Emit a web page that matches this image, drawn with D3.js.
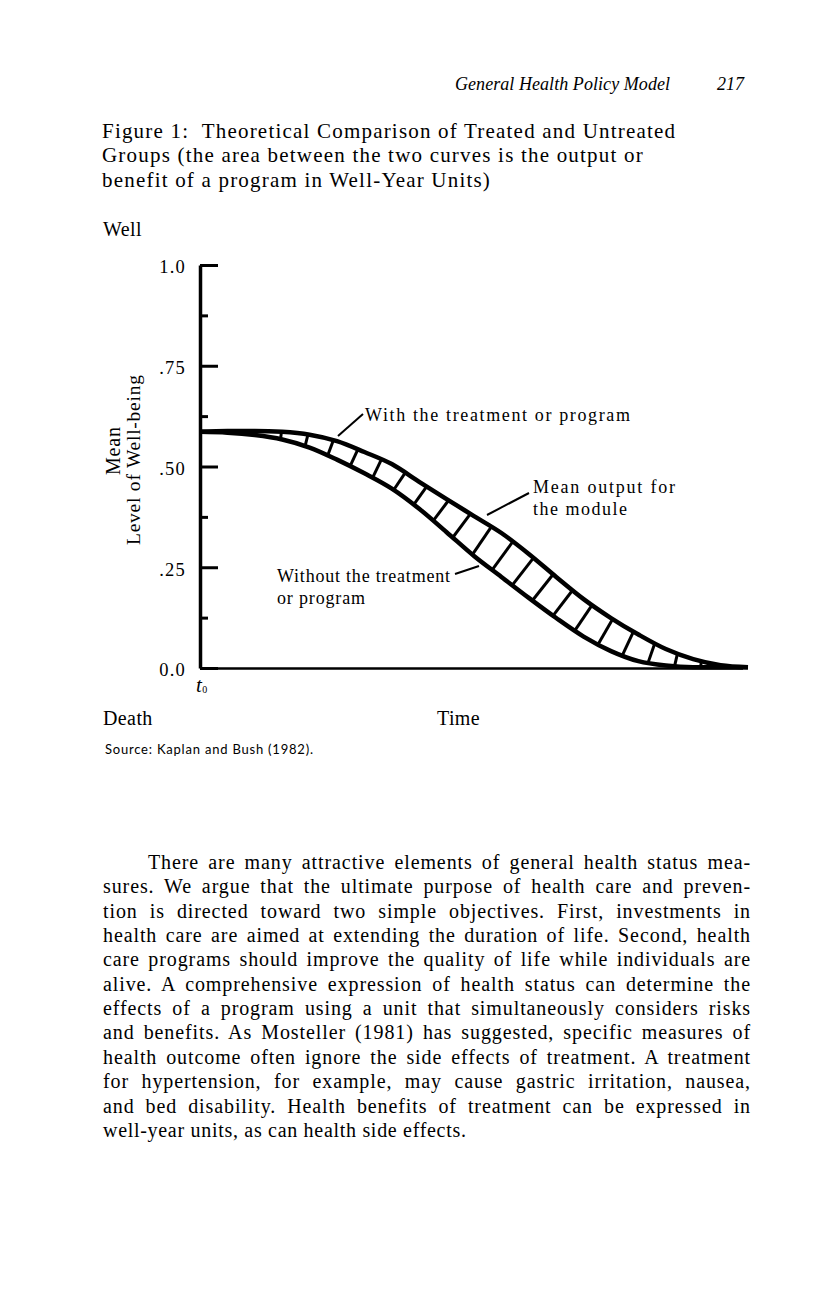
<!DOCTYPE html>
<html><head><meta charset="utf-8">
<script src="https://cdnjs.cloudflare.com/ajax/libs/d3/7.8.5/d3.min.js"></script>
<style>body{margin:0;background:#fff}svg{display:block}</style>
</head><body>
<svg id="c" width="816" height="1296"></svg>
<script>
// ---- data ----
const time = [0,5,10,15,20,25,30,35,40,45,50,55,60,65,70,75,80,85,90,95,100];
const withTreatment = [0.586,0.588,0.588,0.586,0.579,0.563,0.536,0.506,0.462,0.419,0.377,0.335,0.283,0.226,0.171,0.124,0.083,0.047,0.022,0.007,0.002];
const withoutTreatment = [0.586,0.584,0.578,0.567,0.547,0.517,0.483,0.445,0.395,0.337,0.278,0.226,0.174,0.124,0.078,0.042,0.017,0.006,0.002,0.002,0.002];
const yMajorTicks = [0, 0.25, 0.5, 0.75, 1.0];
const yTickLabels = ["0.0", ".25", ".50", ".75", "1.0"];
const yMinorTicks = [0.125, 0.375, 0.625, 0.875];
const headerText = "General Health Policy Model";
const pageNumber = "217";
const titleLines = [
  "Figure 1:  Theoretical Comparison of Treated and Untreated",
  "Groups (the area between the two curves is the output or",
  "benefit of a program in Well-Year Units)"
];
const bodyLines = [
  "There are many attractive elements of general health status mea-",
  "sures. We argue that the ultimate purpose of health care and preven-",
  "tion is directed toward two simple objectives. First, investments in",
  "health care are aimed at extending the duration of life. Second, health",
  "care programs should improve the quality of life while individuals are",
  "alive. A comprehensive expression of health status can determine the",
  "effects of a program using a unit that simultaneously considers risks",
  "and benefits. As Mosteller (1981) has suggested, specific measures of",
  "health outcome often ignore the side effects of treatment. A treatment",
  "for hypertension, for example, may cause gastric irritation, nausea,",
  "and bed disability. Health benefits of treatment can be expressed in",
  "well-year units, as can health side effects."
];

// ---- setup ----
const svg = d3.select("#c");
const serif = "'Liberation Serif', 'Times New Roman', serif";
const x = d3.scaleLinear().domain([0, 100]).range([200, 748]);
const y = d3.scaleLinear().domain([0, 1]).range([668, 265]);

// header
svg.append("text").attr("x", 455).attr("y", 90).attr("font-family", serif)
  .attr("font-style", "italic").attr("font-size", 18).attr("textLength", 215)
  .text(headerText);
svg.append("text").attr("x", 717).attr("y", 90).attr("font-family", serif)
  .attr("font-style", "italic").attr("font-size", 18).text(pageNumber);

// title
titleLines.forEach((t, i) => {
  svg.append("text").attr("x", 102).attr("y", 138 + i * 24.3)
    .attr("font-family", serif).attr("font-size", 21).attr("letter-spacing", 1.2)
    .style("white-space", "pre").text(t);
});

// side labels
const lbl = (t, xx, yy, size) => svg.append("text").attr("x", xx).attr("y", yy)
  .attr("font-family", serif).attr("font-size", size || 20).attr("letter-spacing", 0.4).text(t);
lbl("Well", 103, 236);
lbl("Death", 103, 725);
lbl("Time", 437, 725);
const t0 = svg.append("text").attr("x", 196).attr("y", 692).attr("font-family", serif)
  .attr("font-size", 21).attr("font-style", "italic");
t0.append("tspan").text("t");
t0.append("tspan").attr("font-size", 10).attr("font-style", "normal").attr("dx", 0.5).attr("dy", 1).text("0");

svg.append("text").attr("x", 105).attr("y", 754).attr("font-family", "Lato, 'Open Sans', sans-serif")
  .attr("font-size", 13).attr("textLength", 208).text("Source: Kaplan and Bush (1982).");

// rotated y label
svg.append("text").attr("transform", "translate(120,451) rotate(-90)").attr("text-anchor", "middle")
  .attr("font-family", serif).attr("font-size", 20).attr("textLength", 48).text("Mean");
svg.append("text").attr("transform", "translate(140,460) rotate(-90)").attr("text-anchor", "middle")
  .attr("font-family", serif).attr("font-size", 19.5).attr("textLength", 170).text("Level of Well-being");

// ---- axes ----
const gAxis = svg.append("g").attr("transform", `translate(${x(0)},0)`);
gAxis.call(d3.axisRight(y).tickValues(yMajorTicks).tickSize(18).tickSizeOuter(0).tickFormat(""));
gAxis.selectAll(".tick line").attr("stroke", "#000").attr("stroke-width", 3);
gAxis.select(".domain").attr("stroke", "#000").attr("stroke-width", 3.5);
const gMinor = svg.append("g").attr("transform", `translate(${x(0)},0)`);
gMinor.call(d3.axisRight(y).tickValues(yMinorTicks).tickSize(8).tickSizeOuter(0).tickFormat(""));
gMinor.select(".domain").remove();
gMinor.selectAll(".tick line").attr("stroke", "#000").attr("stroke-width", 3);

const gLab = svg.append("g").attr("transform", `translate(${x(0) - 11},0)`);
gLab.call(d3.axisLeft(y).tickValues(yMajorTicks).tickSize(0)
  .tickFormat((d, i) => yTickLabels[i]));
gLab.select(".domain").remove();
gLab.selectAll("text").attr("font-family", serif).attr("font-size", 18.5)
  .attr("letter-spacing", 1.2).attr("fill", "#000").attr("dy", "0.42em");

const gX = svg.append("g").attr("transform", `translate(0,${y(0)})`);
gX.call(d3.axisBottom(d3.scaleLinear().domain([0, 99]).range([x(0), x(99)])).tickValues([]).tickSizeOuter(0));
gX.select(".domain").attr("stroke", "#000").attr("stroke-width", 2.5);

// ---- curves ----
const line = d3.line().x(d => x(d[0])).y(d => y(d[1])).curve(d3.curveMonotoneX);
const upperPts = time.map((t, i) => [t, withTreatment[i]]);
const lowerPts = time.map((t, i) => [t, withoutTreatment[i]]);
const upPath = svg.append("path").attr("d", line(upperPts)).attr("fill", "none")
  .attr("stroke", "#000").attr("stroke-width", 4.5);
const loPath = svg.append("path").attr("d", line(lowerPts)).attr("fill", "none")
  .attr("stroke", "#000").attr("stroke-width", 4.5);

// sample curves
function sampler(node) {
  const L = node.getTotalLength(); const pts = [];
  for (let l = 0; l <= L; l += 0.5) { const p = node.getPointAtLength(l); pts.push([p.x, p.y]); }
  pts.sort((a, b) => a[0] - b[0]);
  const bis = d3.bisector(d => d[0]).left;
  return xx => {
    let i = bis(pts, xx); if (i <= 0) return pts[0][1]; if (i >= pts.length) return pts[pts.length - 1][1];
    const a = pts[i - 1], b = pts[i]; const f = (xx - a[0]) / ((b[0] - a[0]) || 1);
    return a[1] + f * (b[1] - a[1]);
  };
}
const yu = sampler(upPath.node()), ylo = sampler(loPath.node());
const midPts = [];
for (let xx = x(0); xx <= x(100); xx += 0.5) midPts.push([xx, (yu(xx) + ylo(xx)) / 2, ylo(xx) - yu(xx)]);
let acc = 0; midPts[0].push(0);
for (let i = 1; i < midPts.length; i++) { acc += Math.hypot(midPts[i][0] - midPts[i - 1][0], midPts[i][1] - midPts[i - 1][1]); midPts[i].push(acc); }
const startIdx = midPts.findIndex(m => m[0] >= 281);
const hatchStep = 25.5;
const hatches = [];
for (let s = midPts[startIdx][3]; s < acc; s += hatchStep) {
  const i = midPts.findIndex(m => m[3] >= s);
  if (i < 1 || i >= midPts.length - 1) break;
  const m = midPts[i]; if (m[2] < 2.5) break;
  const slope = (midPts[i + 1][1] - midPts[i - 1][1]) / (midPts[i + 1][0] - midPts[i - 1][0]);
  const nrm = Math.sqrt(1 + slope * slope);
  const h = (m[2] / 2) / nrm;
  const nx = slope / nrm, ny = -1 / nrm;
  hatches.push([m[0] - nx * h, m[1] - ny * h, m[0] + nx * h, m[1] + ny * h]);
}
svg.append("g").selectAll("line").data(hatches).join("line")
  .attr("x1", d => d[0]).attr("y1", d => d[1]).attr("x2", d => d[2]).attr("y2", d => d[3])
  .attr("stroke", "#000").attr("stroke-width", 3);

// ---- annotations ----
const ann = (t, xx, yy, w) => svg.append("text").attr("x", xx).attr("y", yy).attr("font-family", serif)
  .attr("font-size", 18).attr("textLength", w).attr("lengthAdjust", "spacing").text(t);
const leader = (x1, y1, x2, y2) => svg.append("line").attr("x1", x1).attr("y1", y1).attr("x2", x2).attr("y2", y2)
  .attr("stroke", "#000").attr("stroke-width", 2);
ann("With the treatment or program", 365, 421, 265);
leader(338, 436, 363, 414);
ann("Mean output for", 533, 493, 142);
ann("the module", 533, 515, 94);
leader(487, 515, 529, 493);
ann("Without the treatment", 277, 582, 173);
ann("or program", 277, 604, 88);
leader(455, 574, 479, 566);

// ---- body text ----
const bodyLeft = 103, bodyRight = 751, bodyIndent = 45, bodyLH = 24.35, bodyTop = 869;
bodyLines.forEach((t, i) => {
  const xx = bodyLeft + (i === 0 ? bodyIndent : 0);
  const el = svg.append("text").attr("x", xx).attr("y", bodyTop + i * bodyLH).attr("font-family", serif)
    .attr("font-size", 20).text(t);
  const w = el.node().getComputedTextLength();
  const n = t.length;
  const spaces = (t.match(/ /g) || []).length;
  if (i < bodyLines.length - 1) {
    const target = bodyRight - xx;
    const ls = Math.max(0, Math.min(0.9, (target - w - spaces * 2) / (n - 1)));
    el.attr("letter-spacing", ls);
    el.attr("word-spacing", (target - w - ls * n) / spaces);
  } else {
    el.attr("letter-spacing", 0.7);
  }
});
</script>
</body></html>
